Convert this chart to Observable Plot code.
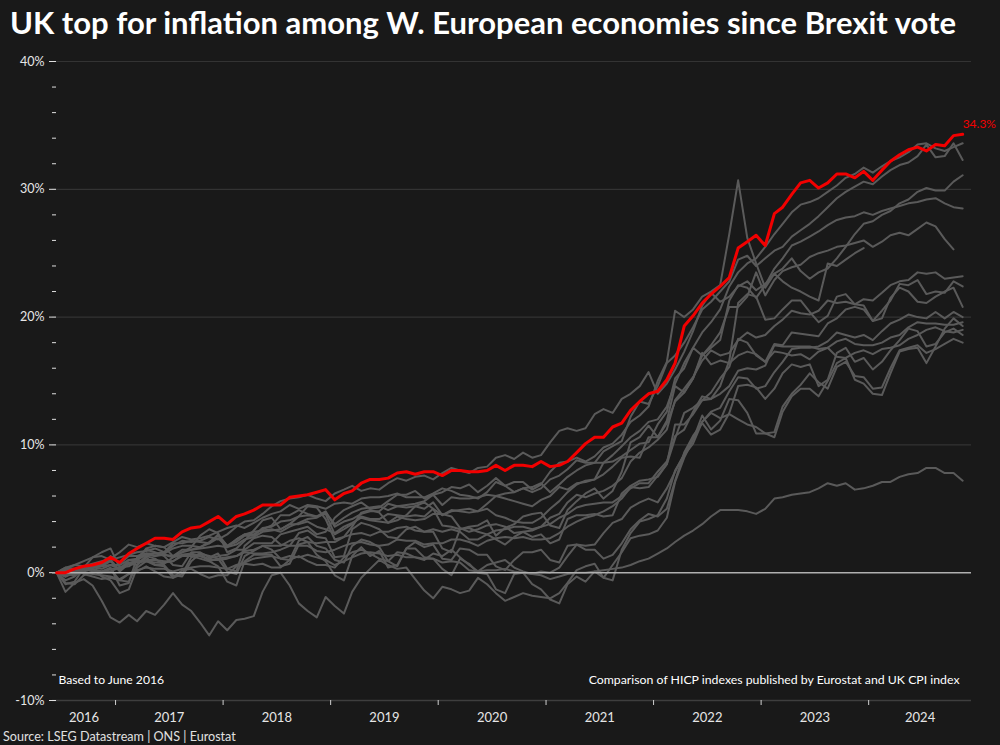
<!DOCTYPE html>
<html><head><meta charset="utf-8">
<script src="https://cdn.jsdelivr.net/npm/d3@7"></script>
<script src="https://cdn.jsdelivr.net/npm/@observablehq/plot@0.6"></script>
<style>
html,body{margin:0;padding:0;background:#191919;}
#wrap{position:relative;width:1000px;height:745px;overflow:hidden;background:#191919;font-family:Lato,"Open Sans",sans-serif;}
#title{position:absolute;left:10px;top:7px;color:#fff;font-weight:bold;white-space:nowrap;line-height:1;}
#chart{position:absolute;left:0;top:45px;}
#source{position:absolute;left:3px;top:731px;color:#e0e0e0;white-space:nowrap;line-height:1;}
</style></head><body>
<div id="wrap">
<div id="title">UK top for inflation among W. European economies since Brexit vote</div>
<div id="chart"></div>
<div id="source">Source: LSEG Datastream | ONS | Eurostat</div>
</div>
<script>
// ---- Data: cumulative % change since June 2016, monthly Jun 2016 .. Nov 2024 ----
const titleText = "UK top for inflation among W. European economies since Brexit vote";
const noteLeft = "Based to June 2016";
const noteRight = "Comparison of HICP indexes published by Eurostat and UK CPI index";
const sourceText = "Source: LSEG Datastream | ONS | Eurostat";
const yMajorTicks = [-10, 0, 10, 20, 30, 40];
const yMinorTicks = [-8, -6, -4, -2, 2, 4, 6, 8, 12, 14, 16, 18, 22, 24, 26, 28, 32, 34, 36, 38];
const yearLabels = [2016, 2017, 2018, 2019, 2020, 2021, 2022, 2023, 2024];

const uk = [
 0, 0, 0.3, 0.5, 0.6, 0.8, 1.2,
 0.8, 1.5, 1.9, 2.3, 2.7, 2.7, 2.6, 3.2, 3.5, 3.6, 4.0, 4.4,
 3.8, 4.4, 4.6, 4.9, 5.3, 5.3, 5.3, 5.9, 6.0, 6.1, 6.3, 6.5,
 5.7, 6.2, 6.4, 7.0, 7.3, 7.3, 7.4, 7.8, 7.9, 7.7, 7.9, 7.9,
 7.6, 8.0, 8.0, 7.9, 7.9, 8.0, 8.4, 8.0, 8.4, 8.4, 8.3, 8.7,
 8.3, 8.4, 8.7, 9.4, 10.1, 10.6, 10.6, 11.4, 11.7, 12.7, 13.4, 14.0,
 14.2, 15.1, 16.4, 19.3, 20.1, 21.1, 21.8, 22.4, 23.1, 25.4, 25.9, 26.4,
 25.6, 28.1, 28.6, 29.6, 30.5, 30.7, 30.1, 30.5, 31.2, 31.2, 30.9, 31.4,
 30.7, 31.5, 32.2, 32.7, 33.1, 33.3, 33.0, 33.5, 33.4, 34.2, 34.3];

const other01 = [
 0, -0.3, 0.1, 0.3, 0.4, 0.5, 0.9,
 0.1, 0.7, 1.0, 1.4, 1.3, 1.4, 1.2, 1.6, 1.8, 2.0, 2.3, 3.0,
 2.1, 2.6, 3.0, 3.2, 3.3, 3.4, 3.2, 3.6, 3.9, 4.2, 4.3, 4.7,
 3.8, 4.3, 4.7, 5.0, 5.1, 5.2, 4.9, 5.2, 5.3, 5.4, 5.6, 6.1,
 5.3, 5.9, 5.8, 5.8, 5.9, 6.1, 6.0, 6.2, 6.3, 6.6, 6.7, 7.0,
 6.3, 6.9, 7.5, 8.0, 8.4, 8.6, 8.6, 9.2, 9.9, 10.6, 11.1, 11.8,
 12.0, 13.0, 14.8, 16.4, 17.6, 18.8, 19.6, 20.6, 22.4, 23.5, 24.2, 24.6,
 25.5, 26.5, 27.3, 28.2, 28.8, 29.0, 29.3, 29.8, 30.3, 30.9, 31.2, 31.7,
 31.3, 31.8, 32.2, 32.5, 32.9, 33.5, 33.6, 33.2, 33.0, 33.3, 33.6];

const other02 = [
 0, 0.4, 0.6, 0.5, 0.7, 0.9, 1.1,
 1.6, 2.2, 2.0, 2.3, 2.1, 2.0, 2.4, 2.8, 2.6, 2.7, 2.9, 3.2,
 3.5, 3.7, 3.5, 3.9, 4.3, 4.6, 4.8, 5.3, 5.0, 5.3, 5.2, 5.0,
 5.4, 5.5, 5.4, 5.8, 5.9, 5.9, 6.0, 6.2, 5.9, 5.9, 5.9, 6.2,
 6.6, 6.4, 6.1, 6.0, 5.8, 6.3, 7.1, 6.8, 6.3, 6.6, 6.3, 6.6,
 7.3, 7.6, 8.1, 8.8, 8.6, 8.6, 9.5, 9.9, 10.3, 12.2, 13.4, 13.2,
 14.6, 16.4, 17.0, 18.0, 19.2, 20.6, 21.2, 22.0, 22.8, 24.5, 24.8, 24.0,
 24.6, 25.2, 25.5, 26.3, 26.8, 27.3, 27.9, 28.6, 29.3, 29.8, 30.2, 30.6,
 30.4, 31.0, 31.5, 31.9, 32.1, 32.6, 33.5, 32.5, 32.6, 33.6, 32.3];

const other03 = [
 0, 0.4, 0.3, 0.2, 0.2, 0.0, 0.3,
 0.3, 0.7, 0.6, 1.2, 0.6, 0.7, 1.2, 1.4, 1.5, 1.3, 1.1, 1.3,
 1.4, 1.8, 1.8, 2.3, 2.3, 2.3, 3.0, 3.2, 3.4, 3.6, 3.0, 3.2,
 4.3, 4.9, 5.2, 5.5, 5.0, 5.1, 5.6, 6.1, 6.1, 6.4, 5.8, 6.1,
 6.3, 6.7, 6.6, 6.9, 6.3, 6.8, 7.4, 6.8, 7.1, 7.1, 6.5, 6.9,
 7.9, 8.6, 8.7, 9.0, 8.7, 9.1, 9.8, 10.1, 10.8, 11.8, 12.3, 13.0,
 15.0, 16.5, 20.5, 20.0, 20.6, 21.6, 22.0, 22.5, 26.5, 30.7, 26.2, 24.2,
 22.3, 23.4, 23.8, 24.6, 23.6, 23.0, 23.5, 23.8, 24.6, 25.5, 26.5, 27.3,
 27.5, 28.0, 28.3, 28.9, 29.2, 29.8, 30.1, 29.9, 29.9, 30.6, 31.1];

const other04 = [
 0, 0.3, 0.3, 0.4, 0.6, 0.6, 1.3,
 0.7, 1.3, 1.3, 1.5, 1.3, 1.5, 1.9, 2.1, 2.1, 2.0, 2.4, 2.9,
 2.1, 2.4, 2.9, 2.9, 3.5, 3.6, 4.0, 4.1, 4.4, 4.5, 4.4, 4.6,
 3.0, 3.4, 3.8, 4.4, 4.2, 4.2, 4.6, 4.5, 4.4, 4.5, 4.4, 5.0,
 4.5, 4.8, 4.9, 5.0, 4.8, 5.0, 4.5, 4.3, 4.0, 3.9, 3.9, 4.3,
 5.0, 5.6, 6.3, 6.9, 7.2, 7.3, 8.6, 8.7, 9.1, 9.6, 10.1, 10.2,
 11.6, 12.6, 15.2, 16.0, 17.6, 17.0, 17.6, 18.2, 21.3, 22.5, 22.3, 21.5,
 22.5, 23.8, 24.6, 25.6, 25.9, 26.3, 26.7, 27.2, 27.6, 27.8, 27.9, 28.2,
 28.0, 28.3, 28.5, 28.7, 28.9, 29.0, 29.2, 29.3, 28.9, 28.6, 28.5];

const other05 = [
 0, 0.1, 0.3, 0.5, 0.5, 0.6, 1.0,
 0.2, 1.0, 1.1, 1.4, 1.5, 1.6, 2.3, 2.3, 2.5, 2.4, 2.3, 2.7,
 2.0, 2.6, 3.0, 3.0, 3.4, 3.7, 4.5, 4.5, 4.9, 4.6, 4.4, 4.8,
 3.6, 4.0, 4.2, 4.6, 4.8, 4.8, 5.4, 5.2, 5.1, 5.2, 5.0, 5.5,
 4.5, 4.9, 4.8, 4.7, 4.8, 5.4, 6.0, 5.8, 5.6, 5.4, 5.2, 5.7,
 6.0, 6.7, 6.5, 7.0, 7.1, 7.3, 7.7, 8.3, 9.0, 9.1, 9.0, 10.6,
 10.6, 11.7, 13.4, 14.1, 15.2, 17.0, 17.8, 18.8, 20.8, 20.8, 21.6, 23.5,
 21.7, 22.9, 23.6, 23.9, 24.1, 24.7, 25.0, 25.2, 25.5, 25.6, 25.8, 26.0,
 25.5, 25.9, 26.4, 26.6, 26.4, 26.9, 27.4, 27.1, 26.1, 25.3, null];

const other06 = [
 0, 0.3, 0.6, 0.9, 1.2, 1.3, 1.0,
 1.2, 1.4, 1.6, 1.7, 1.9, 1.6, 2.1, 2.5, 2.4, 2.5, 2.8, 2.6,
 3.0, 3.6, 4.0, 4.1, 4.6, 5.2, 5.6, 5.8, 5.9, 6.1, 5.8, 5.6,
 6.2, 6.5, 6.8, 6.4, 6.6, 6.5, 7.0, 7.4, 7.2, 7.5, 7.6, 7.3,
 7.8, 8.2, 8.0, 7.8, 8.2, 8.3, 9.0, 9.2, 8.9, 9.4, 9.0, 9.2,
 10.2, 11.1, 11.3, 11.1, 11.3, 12.4, 12.8, 12.5, 13.6, 14.0, 14.6, 15.7,
 14.0, 14.8, 15.9, 17.3, 18.9, 20.9, 21.9, 21.2, 21.6, 22.4, 22.8, 22.1,
 22.6, 23.4, 22.8, 22.3, 22.0, 21.6, 21.3, 24.2, 24.0, 24.5, 25.0, 25.4,
 null, null, null, null, null, null, null, null, null, null, null];

const other07 = [
 0, -0.3, 0.0, 0.3, 0.4, 0.3, 0.6,
 0.6, 1.0, 1.0, 1.5, 1.5, 1.4, 1.3, 1.8, 1.8, 1.9, 2.0, 2.1,
 2.0, 2.2, 2.6, 2.8, 3.2, 3.3, 3.4, 3.8, 3.8, 4.0, 3.6, 3.4,
 3.1, 3.6, 3.9, 4.3, 4.1, 4.0, 3.9, 4.4, 4.2, 4.1, 4.2, 4.6,
 4.6, 4.4, 3.5, 3.2, 3.4, 3.7, 3.8, 3.6, 3.1, 3.2, 3.3, 3.6,
 4.3, 4.6, 5.5, 6.1, 5.9, 6.2, 6.4, 6.8, 7.4, 8.7, 9.4, 9.8,
 10.4, 11.2, 13.5, 14.4, 15.3, 16.6, 17.4, 17.0, 17.2, 18.2, 18.8, 18.4,
 18.6, 19.3, 19.8, 20.5, 20.3, 20.2, 20.5, 21.3, 21.1, 21.2, 21.0, 21.4,
 21.3, 21.9, 22.5, 22.8, 22.9, 23.5, 23.4, 23.5, 23.0, 23.1, 23.2];

const other08 = [
 0, -0.6, -0.3, 0.4, 1.2, 1.6, 1.9,
 0.4, 0.5, 0.9, 1.9, 2.1, 2.0, 1.3, 1.6, 2.0, 2.9, 3.4, 3.1,
 1.6, 1.9, 2.5, 3.3, 4.1, 4.3, 3.4, 3.8, 4.4, 5.2, 5.1, 4.2,
 2.6, 2.8, 3.6, 4.7, 4.9, 4.7, 3.9, 4.1, 4.5, 5.2, 5.5, 5.0,
 3.7, 3.6, 3.4, 3.6, 3.7, 4.1, 2.9, 3.5, 3.8, 4.4, 4.6, 4.7,
 3.7, 3.5, 4.9, 5.6, 6.2, 6.6, 5.8, 6.4, 7.9, 10.2, 10.6, 11.5,
 10.6, 11.9, 14.6, 14.1, 15.2, 17.2, 16.3, 16.6, 16.4, 17.0, 17.3, 17.1,
 16.5, 17.9, 17.8, 18.8, 18.7, 18.6, 18.5, 19.5, 19.9, 20.6, 20.8, 20.6,
 19.7, 20.5, 21.3, 22.6, 22.5, 22.9, 21.8, 22.0, 21.9, 22.8, 22.4];

const other09 = [
 0, -0.1, -0.2, 0.3, 0.2, 0.1, 0.4,
 -1.0, -0.8, 1.2, 1.8, 1.6, 1.3, 0.6, 0.5, 1.6, 1.6, 1.2, 1.5,
 0.3, 0.1, 2.1, 2.7, 2.9, 2.8, 2.2, 2.1, 3.1, 3.3, 2.8, 2.7,
 1.2, 1.3, 3.4, 3.9, 3.7, 3.4, 2.8, 2.7, 3.4, 3.6, 3.2, 3.2,
 1.9, 1.6, 3.4, 3.5, 3.2, 3.0, 2.6, 2.2, 2.8, 3.2, 2.8, 3.0,
 2.3, 2.6, 4.2, 4.5, 4.5, 4.6, 4.4, 4.5, 6.2, 6.8, 7.2, 7.3,
 7.5, 8.5, 11.6, 11.6, 12.4, 13.5, 13.6, 14.6, 16.6, 21.1, 21.8, 21.6,
 19.8, 19.9, 20.6, 21.3, 21.3, 20.4, 19.6, 20.1, 21.6, 21.8, 21.0, 20.9,
 19.7, 19.9, 21.5, 22.3, 22.0, 21.2, 21.1, 21.6, 22.0, 22.3, 20.8];

const other10 = [
 0, 0.2, 0.3, -0.1, -0.3, -0.5, -0.4,
 -0.6, -0.1, 0.1, 0.5, 0.1, -0.3, -0.4, 0.2, 0.3, -0.1, -0.4, -0.2,
 -0.2, 0.5, 0.7, 0.6, 0.7, 0.4, 0.4, 1.0, 1.3, 0.9, 0.6, 0.6,
 0.4, 1.2, 1.6, 1.8, 1.5, 1.1, 0.9, 1.6, 1.5, 1.2, 1.0, 1.5,
 1.3, 1.8, 1.2, 0.6, 0.1, 0.6, 0.8, 1.0, 0.4, 0.1, -0.1, 0.1,
 0.0, 0.4, 1.3, 2.2, 2.1, 2.2, 3.1, 3.9, 4.2, 5.1, 5.5, 5.8,
 5.5, 6.6, 7.9, 9.3, 10.5, 11.8, 12.6, 12.9, 14.2, 15.3, 15.2, 14.4,
 14.6, 15.7, 16.5, 17.5, 17.6, 17.6, 17.7, 18.1, 18.8, 18.6, 18.4, 18.6,
 18.2, 18.9, 19.5, 19.8, 20.2, 20.0, 19.9, 20.4, 19.9, 20.4, 20.0];

const other11 = [
 0, 0.2, 0.1, 0.3, 0.4, 0.5, 0.6,
 0.3, 0.7, 0.9, 1.0, 1.0, 0.9, 0.9, 1.3, 1.3, 1.1, 0.9, 1.1,
 1.2, 1.3, 1.7, 1.8, 2.1, 2.1, 2.1, 2.5, 2.7, 2.4, 2.3, 2.4,
 2.4, 2.8, 3.0, 3.1, 2.9, 3.2, 3.2, 3.5, 3.6, 3.3, 3.2, 3.4,
 3.2, 3.4, 3.2, 2.6, 2.6, 3.0, 3.3, 3.4, 3.6, 3.6, 3.4, 3.6,
 3.8, 4.3, 4.6, 5.1, 5.3, 5.4, 5.5, 5.5, 6.0, 6.6, 7.0, 7.0,
 7.9, 8.7, 10.7, 11.2, 12.6, 13.8, 13.6, 14.0, 14.6, 15.8, 16.0, 15.9,
 16.2, 17.8, 17.7, 17.7, 17.7, 17.7, 17.5, 17.6, 18.1, 18.3, 17.9, 17.8,
 17.8, 18.0, 18.4, 18.6, 19.2, 19.6, 19.5, 19.5, 19.4, 19.4, 19.6];

const other12 = [
 0, -0.1, 0.0, 0.1, 0.3, 0.1, 0.1,
 0.4, 0.8, 0.8, 0.9, 0.8, 0.8, 0.9, 1.4, 1.4, 1.3, 1.0, 1.0,
 1.1, 1.3, 1.6, 1.5, 1.5, 1.6, 1.8, 2.1, 2.1, 2.1, 1.7, 1.6,
 1.8, 2.1, 2.3, 2.4, 2.2, 2.1, 2.2, 2.6, 2.5, 2.5, 2.2, 2.3,
 2.3, 2.6, 2.6, 2.4, 2.1, 2.5, 2.7, 2.8, 2.7, 2.8, 2.6, 2.6,
 2.7, 3.1, 3.6, 4.0, 4.3, 4.5, 4.8, 5.2, 5.8, 6.7, 6.6, 6.7,
 7.6, 8.5, 10.5, 12.5, 12.9, 13.5, 14.1, 15.2, 16.1, 18.3, 18.0, 17.0,
 16.5, 17.3, 17.2, 17.0, 17.1, 16.7, 17.3, 17.6, 16.9, 16.8, 17.2, 17.4,
 17.1, 17.5, 17.6, 17.8, 18.3, 18.6, 19.0, 19.2, 18.9, 18.8, 19.0];

const other13 = [
 0, -0.8, -0.9, -0.2, 0.1, 0.0, 0.3,
 -0.6, -0.7, 0.6, 1.3, 1.1, 0.6, -0.2, -0.3, 0.9, 1.5, 1.3, 1.1,
 0.1, -0.1, 1.3, 1.7, 2.1, 1.8, 1.1, 1.0, 2.5, 2.8, 2.1, 1.9,
 1.0, 0.8, 2.1, 2.6, 2.4, 2.0, 0.9, 0.5, 1.9, 2.4, 2.0, 2.2,
 1.1, 1.0, 1.9, 1.8, 1.4, 1.4, 0.5, 0.2, 1.0, 1.6, 1.6, 1.8,
 1.0, 0.8, 2.1, 2.2, 1.8, 1.8, 1.1, 1.4, 2.3, 3.4, 4.1, 4.6,
 4.4, 5.0, 7.2, 9.4, 10.7, 11.7, 10.8, 11.2, 12.5, 14.6, 14.7, 14.5,
 13.6, 14.4, 15.6, 16.3, 16.1, 16.3, 14.6, 15.1, 17.2, 17.6, 16.5, 16.8,
 15.9, 16.5, 17.4, 18.2, 19.1, 18.9, 17.7, 17.9, 18.8, 19.1, 18.6];

const other14 = [
 0, -1.5, -0.8, -0.5, -1.0, -2.2, -3.5,
 -3.9, -3.3, -3.8, -3.0, -3.3, -2.5, -1.6, -2.5, -3.0, -3.9, -4.9, -3.8,
 -4.5, -3.7, -3.6, -3.4, -1.5, -0.2, 0.0, -1.0, -2.4, -3.0, -3.5, -1.9,
 -2.6, -3.2, -1.5, -0.4, 0.3, 1.0, 0.6, 0.3, 0.4, -0.5, -1.4, -2.0,
 -1.1, -1.3, -1.6, -1.4, -0.4, -0.9, -1.6, -2.2, -1.9, -1.6, -1.8, -1.9,
 -2.0, -1.6, -0.8, 0.2, 0.5, 0.7, -0.4, -0.6, 1.8, 3.1, 4.0, 4.2,
 4.5, 5.8, 8.0, 9.2, 10.1, 11.8, 12.5, 12.1, 12.4, 12.0, 11.6, 11.4,
 10.9, 11.0, 13.0, 14.0, 14.7, 15.6, 14.9, 14.4, 16.1, 16.5, 15.4, 15.3,
 14.4, 14.5, 16.0, 17.4, 17.6, 17.8, 17.2, 17.5, 17.9, 18.3, 18.0];

const other15 = [
 0, -0.2, -0.1, 0.0, -0.1, -0.2, -0.3,
 -0.5, -0.1, 0.2, 0.4, 0.3, 0.3, 0.1, 0.3, 0.4, 0.5, 0.5, 0.4,
 0.3, 0.6, 0.8, 1.1, 1.2, 1.3, 1.1, 1.3, 1.2, 1.4, 1.2, 1.0,
 0.6, 0.9, 1.2, 1.5, 1.6, 1.5, 1.3, 1.4, 1.2, 1.2, 1.1, 1.1,
 0.8, 0.9, 0.8, 0.2, 0.1, 0.2, 0.2, 0.3, 0.1, 0.0, -0.1, -0.2,
 -0.5, -0.3, -0.1, 0.0, 0.0, 0.1, 0.2, 0.3, 0.4, 0.6, 0.9, 1.1,
 1.5, 1.9, 2.4, 2.9, 3.3, 3.8, 4.4, 4.9, 4.9, 4.9, 4.8, 4.6,
 5.0, 5.8, 5.9, 6.1, 6.2, 6.3, 6.6, 7.0, 6.8, 7.0, 6.5, 6.6,
 6.8, 7.1, 7.1, 7.5, 7.7, 7.8, 8.2, 8.2, 7.8, 7.8, 7.2];

const other16 = [
 0, -0.9, -0.7, 0.4, 0.3, -0.3, -0.6,
 -1.6, -1.3, 0.4, 0.9, 0.6, 0.5, -0.4, -0.1, 1.2, 1.5, 0.9, 0.5,
 -0.7, -1.0, 0.9, 1.4, 1.4, 1.4, 0.5, 0.7, 2.2, 2.4, 1.4, 0.9,
 -0.2, -0.6, 1.3, 2.0, 1.3, 1.7, 0.4, 0.6, 1.9, 1.9, 1.2, 1.1,
 0.3, -0.2, 1.1, 0.7, 0.0, -0.1, -1.3, -1.6, -0.1, 0.0, -0.9, -1.3,
 -2.1, -2.4, -0.9, -0.3, -0.7, 0.1, -0.4, 0.6, 1.6, 2.7, 2.9, 3.0,
 3.3, 4.3, 7.1, 9.0, 10.4, 12.3, 11.2, 11.9, 13.6, 13.5, 12.5, 10.9,
 10.9, 10.6, 12.6, 13.8, 14.4, 14.4, 13.8, 15.0, 16.4, 16.8, 15.1, 14.8,
 14.0, 13.9, 15.6, 17.3, 17.5, 17.6, 16.4, 17.7, 19.1, 19.9, 19.3];

const others = [other01, other02, other03, other04, other05, other06, other07, other08,
                other09, other10, other11, other12, other13, other14, other15, other16];

// ---- build tables ----
const start = new Date(Date.UTC(2016, 5, 1));
const end = new Date(Date.UTC(2024, 11, 15));
const months = d3.utcMonth.range(start, new Date(Date.UTC(2024, 11, 1))).map(d => d3.utcDay.offset(d, 14));
[uk, ...others].forEach((s, k) => { if (s.length !== months.length) throw new Error("series " + k + " has " + s.length + " values, expected " + months.length); });

const ukTable = uk.map((v, i) => ({date: months[i], value: v}));
const otherTable = others.flatMap((s, k) => s.map((v, i) => ({date: months[i], value: v, series: k})));
const yearStarts = yearLabels.slice(1).map(y => new Date(Date.UTC(y, 0, 1)));
const yearLabelTable = yearLabels.map(y => {
  const a = new Date(Math.max(+start, Date.UTC(y, 0, 1)));
  const b = new Date(Math.min(+end, Date.UTC(y + 1, 0, 1)));
  return {year: String(y), date: new Date((+a + +b) / 2)};
});

// ---- font fitting helper ----
const ctx = document.createElement("canvas").getContext("2d");
function fitSize(text, weight, base, target) {
  ctx.font = `${weight} ${base}px Lato`;
  return base * target / ctx.measureText(text).width;
}
const titleEl = document.getElementById("title");
titleEl.style.fontSize = fitSize(titleText, "bold", 28, 948) + "px";
document.getElementById("source").style.fontSize = fitSize(sourceText, "normal", 13, 233) + "px";
const noteLeftSize = fitSize(noteLeft, "normal", 12, 106);
const noteRightSize = fitSize(noteRight, "normal", 12, 372);

const red = "#f20000";
const x1 = () => start, x2 = () => end;

const chart = Plot.plot({
  width: 1000,
  height: 680,
  marginLeft: 56,
  marginRight: 29,
  marginTop: 16,
  marginBottom: 25,
  style: {background: "transparent", color: "#e6e6e6", fontFamily: "Lato, sans-serif", fontSize: "12px", overflow: "visible"},
  x: {type: "utc", domain: [start, end], range: [52, 971]},
  y: {domain: [-10, 40]},
  marks: [
    Plot.ruleY([10, 20, 30, 40], {x1, x2, stroke: "#333333", strokeWidth: 1.2}),
    Plot.ruleY([-10], {x1, x2, stroke: "#3e3e3e", strokeWidth: 1.5}),
    Plot.axisY({ticks: yMajorTicks, tickSize: 7, tickPadding: 5, tickFormat: d => d + "%", stroke: "#e0e0e0", fill: "#e6e6e6", fontSize: 12.5, label: null}),
    Plot.axisY({ticks: yMinorTicks, tickSize: 4, tickFormat: () => "", stroke: "#e0e0e0", label: null}),
    Plot.axisX({ticks: yearStarts, tickSize: 5, tickFormat: () => "", stroke: "#d0d0d0", label: null}),
    Plot.text(yearLabelTable, {x: "date", y: () => -10, text: "year", dy: 17, fill: "#e6e6e6", fontSize: 13}),
    Plot.text([noteLeft], {frameAnchor: "bottom-left", textAnchor: "start", dx: 2, dy: -17, fill: "#ffffff", fontSize: noteLeftSize}),
    Plot.text([noteRight], {frameAnchor: "bottom-right", textAnchor: "end", dx: -12, dy: -17, fill: "#ffffff", fontSize: noteRightSize}),
    Plot.line(otherTable, {x: "date", y: "value", z: "series", stroke: "#5a5a5a", strokeWidth: 2, strokeLinejoin: "round"}),
    Plot.ruleY([0], {x1, x2, stroke: "#b0b0b0", strokeWidth: 1.5}),
    Plot.line(ukTable, {x: "date", y: "value", stroke: red, strokeWidth: 3, strokeLinejoin: "round"}),
    Plot.text([ukTable[ukTable.length - 1]], {x: "date", y: "value", text: d => d.value.toFixed(1) + "%", fill: red, textAnchor: "start", dx: 0, dy: -10, fontSize: 12})
  ]
});
document.getElementById("chart").appendChild(chart);
</script>
</body></html>
